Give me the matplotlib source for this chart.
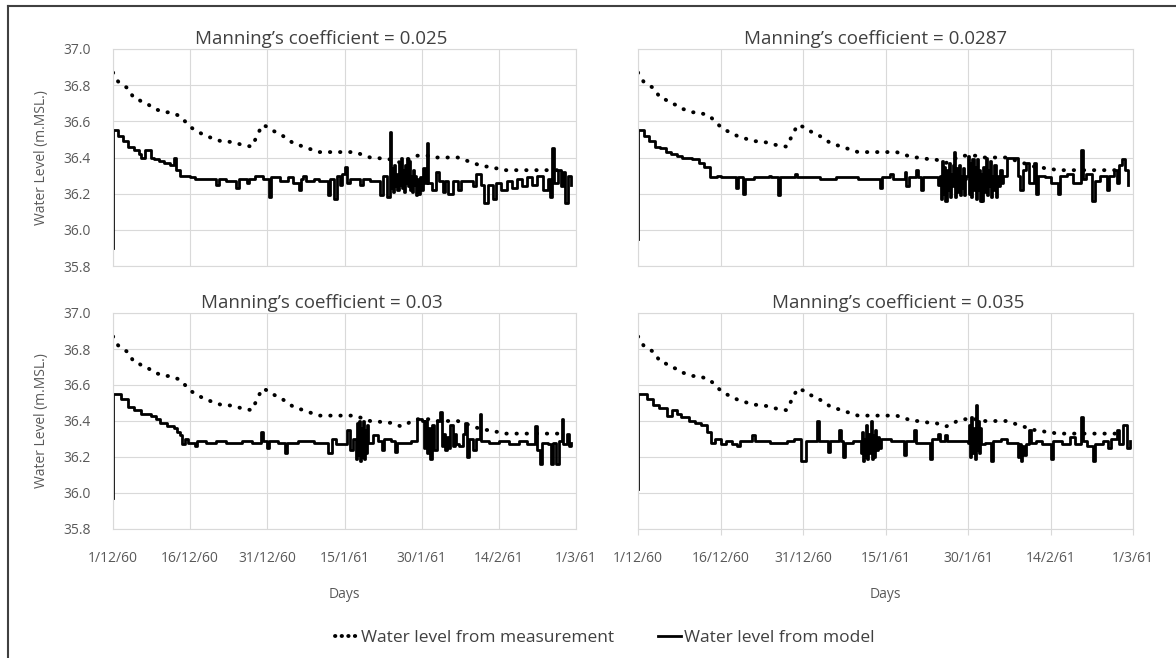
import numpy as np
import matplotlib.pyplot as plt
from matplotlib.lines import Line2D

plt.rcParams['font.family'] = ['Open Sans', 'DejaVu Sans']

# ---- data (days counted from 1/12/60) ----
tick_days = [0, 15, 30, 45, 60, 75, 90]
tick_labels = ['1/12/60', '16/12/60', '31/12/60', '15/1/61', '30/1/61', '14/2/61', '1/3/61']
level_ticks = [35.8, 36.0, 36.2, 36.4, 36.6, 36.8, 37.0]

meas_days = list(range(89))
meas_vals = [36.87, 36.82, 36.80, 36.78, 36.73, 36.72, 36.70, 36.69, 36.67, 36.66,
             36.65, 36.65, 36.64, 36.63, 36.60, 36.57, 36.55, 36.535, 36.52, 36.51,
             36.50, 36.49, 36.49, 36.485, 36.48, 36.47, 36.465, 36.46, 36.52, 36.58,
             36.57, 36.55, 36.535, 36.52, 36.50, 36.48, 36.47, 36.46, 36.45, 36.44,
             36.43, 36.43, 36.43, 36.43, 36.43, 36.43, 36.43, 36.43, 36.42, 36.41,
             36.40, 36.40, 36.395, 36.39, 36.39, 36.38, 36.37, 36.38, 36.40, 36.41,
             36.41, 36.41, 36.41, 36.40, 36.40, 36.40, 36.40, 36.40, 36.39, 36.38,
             36.37, 36.36, 36.35, 36.35, 36.34, 36.34, 36.33, 36.33, 36.33, 36.33,
             36.33, 36.33, 36.33, 36.33, 36.33, 36.33, 36.33, 36.33, 36.33]

# model output, (day, level) pairs
model_0025 = [(0, 35.90), (0, 36.55), (1, 36.52), (2, 36.49), (3, 36.46), (4, 36.44), (5, 36.42),
              (5.5, 36.40), (6.3, 36.44), (7.3, 36.40), (8, 36.39), (9, 36.38), (10, 36.37),
              (11, 36.36), (11.8, 36.40), (12.3, 36.33), (13, 36.30), (14, 36.30), (15, 36.29),
              (16, 36.28), (18, 36.28), (20.1, 36.25), (20.6, 36.28), (22, 36.27), (24, 36.23),
              (24.5, 36.28), (26, 36.26), (26.5, 36.28), (27.6, 36.30), (29.2, 36.28), (30.3, 36.18),
              (30.8, 36.29), (32.5, 36.27), (34, 36.29), (35, 36.26), (36.1, 36.22), (36.6, 36.28),
              (37, 36.30), (37.6, 36.27), (39, 36.28), (40, 36.27), (41.7, 36.19), (42.2, 36.28),
              (43, 36.17), (43.5, 36.30), (44.2, 36.25), (44.6, 36.31), (45, 36.35), (45.4, 36.26),
              (46, 36.28), (48, 36.25), (48.5, 36.28), (50, 36.27), (51.9, 36.19), (52.4, 36.30),
              (53.2, 36.18), (53.9, 36.54), (54.1, 36.23), (54.3, 36.34), (54.5, 36.21), (54.7, 36.36),
              (54.9, 36.24), (55.1, 36.31), (55.3, 36.22), (55.5, 36.37), (55.7, 36.25), (55.9, 36.40),
              (56.1, 36.23), (56.3, 36.33), (56.5, 36.21), (56.7, 36.36), (56.9, 36.26), (57.1, 36.40),
              (57.3, 36.24), (57.5, 36.38), (57.7, 36.22), (57.9, 36.30), (58.1, 36.21), (58.3, 36.33),
              (58.5, 36.25), (58.7, 36.30), (58.9, 36.19), (59.1, 36.28), (59.3, 36.20), (59.6, 36.29),
              (60, 36.22), (60.3, 36.34), (60.6, 36.26), (61, 36.48), (61.3, 36.26),
              (62, 36.22), (62.7, 36.32), (63.4, 36.27), (64.2, 36.21), (64.6, 36.27), (65.2, 36.20),
              (66, 36.27), (67, 36.22), (67.6, 36.27), (69, 36.27), (70, 36.24), (70.5, 36.31),
              (71.5, 36.25), (72.2, 36.15), (72.8, 36.25), (73.9, 36.17), (74.5, 36.26), (75.5, 36.22),
              (76.5, 36.27), (77.5, 36.23), (78.5, 36.28), (79.5, 36.24), (80.5, 36.29), (81.5, 36.25),
              (82.5, 36.30), (83.5, 36.22), (84.5, 36.28), (85, 36.18), (85.4, 36.45), (85.8, 36.26),
              (86.5, 36.33), (87, 36.24), (87.5, 36.32), (87.9, 36.15), (88.5, 36.30), (89, 36.25)]

model_00287 = [(0, 35.95), (0, 36.55), (1, 36.52), (2, 36.49), (3, 36.46), (4, 36.45), (5, 36.43),
               (6, 36.42), (7, 36.41), (8, 36.40), (9.8, 36.39), (11, 36.37), (12, 36.35), (13.1, 36.29),
               (14.4, 36.30), (15, 36.29), (17.8, 36.23), (18.2, 36.29), (19, 36.20), (19.4, 36.28),
               (21, 36.29), (23.8, 36.30), (24.2, 36.29), (25.5, 36.19), (25.9, 36.29), (28.5, 36.31),
               (28.9, 36.29), (33, 36.28), (36, 36.29), (40, 36.28), (44, 36.23), (44.4, 36.29),
               (45.9, 36.31), (46.3, 36.28), (48.5, 36.32), (48.8, 36.24), (49.2, 36.29), (50.5, 36.33),
               (50.9, 36.29), (51.5, 36.22), (51.9, 36.29), (54.5, 36.25), (54.9, 36.30),
               (55.1, 36.17), (55.3, 36.38), (55.5, 36.20), (55.7, 36.35), (55.9, 36.16), (56.1, 36.33),
               (56.3, 36.22), (56.5, 36.37), (56.7, 36.18), (56.9, 36.31), (57.1, 36.24), (57.3, 36.36),
               (57.5, 36.43), (57.7, 36.18), (57.9, 36.34), (58.1, 36.21), (58.3, 36.36), (58.5, 36.19),
               (58.7, 36.30), (58.9, 36.23), (59.1, 36.34), (59.3, 36.19), (59.5, 36.28), (59.7, 36.30),
               (60, 36.41), (60.2, 36.20), (60.4, 36.37), (60.6, 36.18), (60.8, 36.39), (61, 36.22),
               (61.2, 36.35), (61.4, 36.17), (61.6, 36.39), (61.8, 36.22), (62, 36.33), (62.2, 36.16),
               (62.4, 36.31), (62.6, 36.16), (62.8, 36.35), (63, 36.21), (63.2, 36.40), (63.4, 36.19),
               (63.6, 36.33), (63.8, 36.24), (64, 36.38), (64.2, 36.18), (64.4, 36.30), (64.6, 36.22),
               (64.8, 36.36), (65, 36.18), (65.2, 36.30), (65.5, 36.24), (65.8, 36.33), (66.1, 36.26),
               (66.4, 36.30), (67, 36.40),
               (69, 36.30), (69.5, 36.22), (70, 36.33), (70.6, 36.37), (71, 36.26), (72, 36.37),
               (72.4, 36.20), (72.8, 36.30), (74, 36.29), (75, 36.26), (76.3, 36.20), (76.7, 36.30),
               (78, 36.31), (79, 36.26), (80.6, 36.44), (80.9, 36.28), (81.5, 36.31), (82.6, 36.16),
               (83, 36.27), (84, 36.30), (85.3, 36.22), (85.7, 36.30), (86.6, 36.33), (87, 36.26),
               (87.5, 36.36), (88, 36.39), (88.5, 36.33), (89, 36.25)]

model_003 = [(0, 35.97), (0, 36.55), (1.5, 36.52), (3, 36.48), (4, 36.46), (5.5, 36.44), (7.3, 36.43),
             (8.3, 36.41), (9.2, 36.39), (10.5, 36.37), (11.8, 36.36), (12.5, 36.34), (13.1, 36.32),
             (13.5, 36.27), (14, 36.30), (14.5, 36.28), (16, 36.26), (16.4, 36.29), (18, 36.28),
             (20, 36.29), (22, 36.28), (25, 36.29), (27, 36.28), (28.7, 36.34), (29.1, 36.29),
             (30, 36.25), (30.4, 36.29), (32, 36.28), (33.5, 36.22), (33.8, 36.28), (36, 36.29),
             (39, 36.28), (41.7, 36.22), (42.5, 36.30), (43.3, 36.27), (45.5, 36.35), (46.1, 36.24),
             (46.6, 36.30), (47.2, 36.19), (47.4, 36.39), (47.6, 36.21), (47.8, 36.40), (48, 36.18),
             (48.2, 36.36), (48.4, 36.20), (48.6, 36.40), (48.8, 36.19), (49, 36.35), (49.2, 36.22),
             (49.4, 36.38), (49.6, 36.28), (50.5, 36.32), (51.5, 36.29), (52.3, 36.24), (52.7, 36.30),
             (54, 36.29), (54.9, 36.23), (55.3, 36.28), (58, 36.29), (59, 36.41), (60, 36.40),
             (60.4, 36.25), (60.7, 36.40), (61, 36.22), (61.3, 36.36), (61.6, 36.19), (62, 36.38),
             (62.4, 36.24), (62.9, 36.40), (63.6, 36.45), (63.9, 36.26), (64.2, 36.33), (64.5, 36.24),
             (65, 36.31), (65.3, 36.25), (65.6, 36.38), (66.1, 36.26), (66.4, 36.33), (66.7, 36.27),
             (67.3, 36.26), (68, 36.33), (68.4, 36.39), (68.8, 36.20), (69.2, 36.30),
             (70, 36.24), (70.5, 36.30), (71.3, 36.44), (71.6, 36.29), (73, 36.28), (75, 36.29),
             (77, 36.27), (79, 36.29), (80.5, 36.27), (82, 36.37), (82.4, 36.24), (83, 36.16),
             (83.4, 36.28), (84.5, 36.27), (85.2, 36.16), (85.6, 36.28), (86.2, 36.16), (86.6, 36.29),
             (87.2, 36.41), (87.5, 36.27), (88.2, 36.33), (88.6, 36.26), (89, 36.28)]

model_0035 = [(0, 36.02), (0, 36.55), (1.7, 36.52), (2.8, 36.49), (3.8, 36.47), (5.3, 36.43), (6.2, 36.46),
              (7, 36.44), (7.8, 36.42), (9.3, 36.40), (10.3, 36.39), (11.4, 36.38), (12.6, 36.34),
              (13.2, 36.28), (14, 36.30), (15, 36.27), (16, 36.29), (17, 36.27), (18, 36.26),
              (18.6, 36.29), (20.8, 36.32), (21.3, 36.29), (24, 36.28), (27, 36.29), (28.4, 36.30),
              (29.6, 36.18), (30.5, 36.29), (32.6, 36.40), (32.9, 36.29), (34.5, 36.23), (34.9, 36.29),
              (36.6, 36.35), (36.9, 36.29), (37.2, 36.20), (37.6, 36.28), (39, 36.29),
              (40.5, 36.22), (40.7, 36.34), (40.9, 36.18), (41.1, 36.30), (41.3, 36.20), (41.5, 36.38),
              (41.7, 36.19), (41.9, 36.33), (42.1, 36.22), (42.3, 36.40), (42.5, 36.19), (42.7, 36.32),
              (42.9, 36.20), (43.1, 36.35), (43.3, 36.24), (43.6, 36.31), (43.9, 36.25), (44.2, 36.30),
              (46, 36.29), (48.4, 36.21), (48.8, 36.29),
              (50.2, 36.35), (50.6, 36.28), (53, 36.19), (53.4, 36.30), (54.5, 36.33), (54.9, 36.29),
              (55.8, 36.32), (56.2, 36.29), (60, 36.28), (60.2, 36.38), (60.4, 36.20), (60.6, 36.42),
              (60.8, 36.22), (61, 36.36), (61.2, 36.19), (61.4, 36.49), (61.6, 36.24), (61.8, 36.40),
              (62, 36.22), (62.2, 36.36), (62.4, 36.27), (63, 36.28),
              (64.2, 36.18), (64.6, 36.29), (66, 36.30), (67, 36.28), (69, 36.20), (69.3, 36.27),
              (69.6, 36.18), (69.9, 36.26), (70.2, 36.21), (70.5, 36.27), (71, 36.35), (71.4, 36.28),
              (72.4, 36.29), (73.5, 36.27), (75.1, 36.19), (75.5, 36.29), (77, 36.27), (78.5, 36.31),
              (79.5, 36.27), (80.6, 36.42), (80.9, 36.29), (81.7, 36.26), (82.7, 36.18), (83.1, 36.27),
              (84.5, 36.29), (85.4, 36.25), (86, 36.30), (87, 36.35), (87.4, 36.27), (88.1, 36.38),
              (88.5, 36.38), (88.9, 36.25), (89.5, 36.29)]

W, H = 1176, 658
fig = plt.figure(figsize=(W / 100, H / 100), dpi=100)

GRID = '#d9d9d9'
TXT = '#595959'
DOTS = (0, (0.1, 2.5))

# (model data, title, box in pixels: left, top, right, bottom, title x, is bottom row)
panels = [
    (model_0025, "Manning\u2019s coefficient = 0.025", (113, 49, 576, 266), 321, False),
    (model_00287, "Manning\u2019s coefficient = 0.0287", (638, 49, 1133, 266), 876, False),
    (model_003, "Manning\u2019s coefficient = 0.03", (113, 313, 576, 529), 322, True),
    (model_0035, "Manning\u2019s coefficient = 0.035", (638, 313, 1133, 529), 898, True),
]

for model, title, (l, t, r, b), tx, bottom_row in panels:
    ax = fig.add_axes([l / W, 1 - b / H, (r - l) / W, (b - t) / H])
    ax.plot(meas_days, meas_vals, color='black', lw=2.8, linestyle=DOTS, dash_capstyle='round')
    md = [p[0] for p in model]
    mv = [p[1] for p in model]
    ax.plot(md, mv, color='black', lw=2.0, drawstyle='steps-post')

    ax.set_xlim(0, 90)
    ax.set_ylim(35.8, 37.0)
    ax.set_xticks(tick_days)
    ax.set_yticks(level_ticks)
    ax.grid(True, color=GRID, lw=0.8)
    ax.set_axisbelow(True)
    for s in ax.spines.values():
        s.set_color(GRID)
        s.set_linewidth(0.8)

    if l < 300:
        ax.set_yticklabels(['%.1f' % v for v in level_ticks])
        ax.tick_params(axis='y', length=0, pad=16, labelsize=10, labelcolor=TXT)
        fig.text(42 / W, 1 - (t + b) / 2 / H, 'Water Level (m.MSL.)', rotation=90,
                 ha='center', va='center', fontsize=10, color=TXT)
    else:
        ax.tick_params(axis='y', length=0, labelleft=False)

    if bottom_row:
        ax.set_xticklabels(tick_labels)
        tick_len = 4 if l > 300 else 0
        ax.tick_params(axis='x', length=tick_len, color=GRID, pad=12 + 4 - tick_len,
                       labelsize=10, labelcolor=TXT)
        fig.text((l + r) / 2 / W, 1 - 595 / H, 'Days', ha='center', va='center',
                 fontsize=10, color=TXT)
    else:
        ax.tick_params(axis='x', length=0, labelbottom=False)

    fig.text(tx / W, 1 - (t - 10) / H, title, ha='center', va='center',
             fontsize=13.5, color='#404040')

handles = [
    Line2D([], [], color='black', lw=2.8, linestyle=(0, (0.1, 1.6)), dash_capstyle='round'),
    Line2D([], [], color='black', lw=2.0),
]
fig.legend(handles, ['Water level from measurement', 'Water level from model'],
           loc='center', bbox_to_anchor=(605 / W, 1 - 638 / H), ncol=2, frameon=False,
           fontsize=12.5, handlelength=1.3, handletextpad=0.2, columnspacing=2.5,
           labelcolor='#404040')

# outer frame (top and left edges only, as in the source image)
fig.add_artist(Line2D([8 / W, 1], [1 - 5.5 / H, 1 - 5.5 / H], color='#404040', lw=1.5,
                      transform=fig.transFigure))
fig.add_artist(Line2D([8 / W, 8 / W], [0, 1 - 5.5 / H], color='#404040', lw=1.5,
                      transform=fig.transFigure))

fig.savefig('out.png', dpi=100)
